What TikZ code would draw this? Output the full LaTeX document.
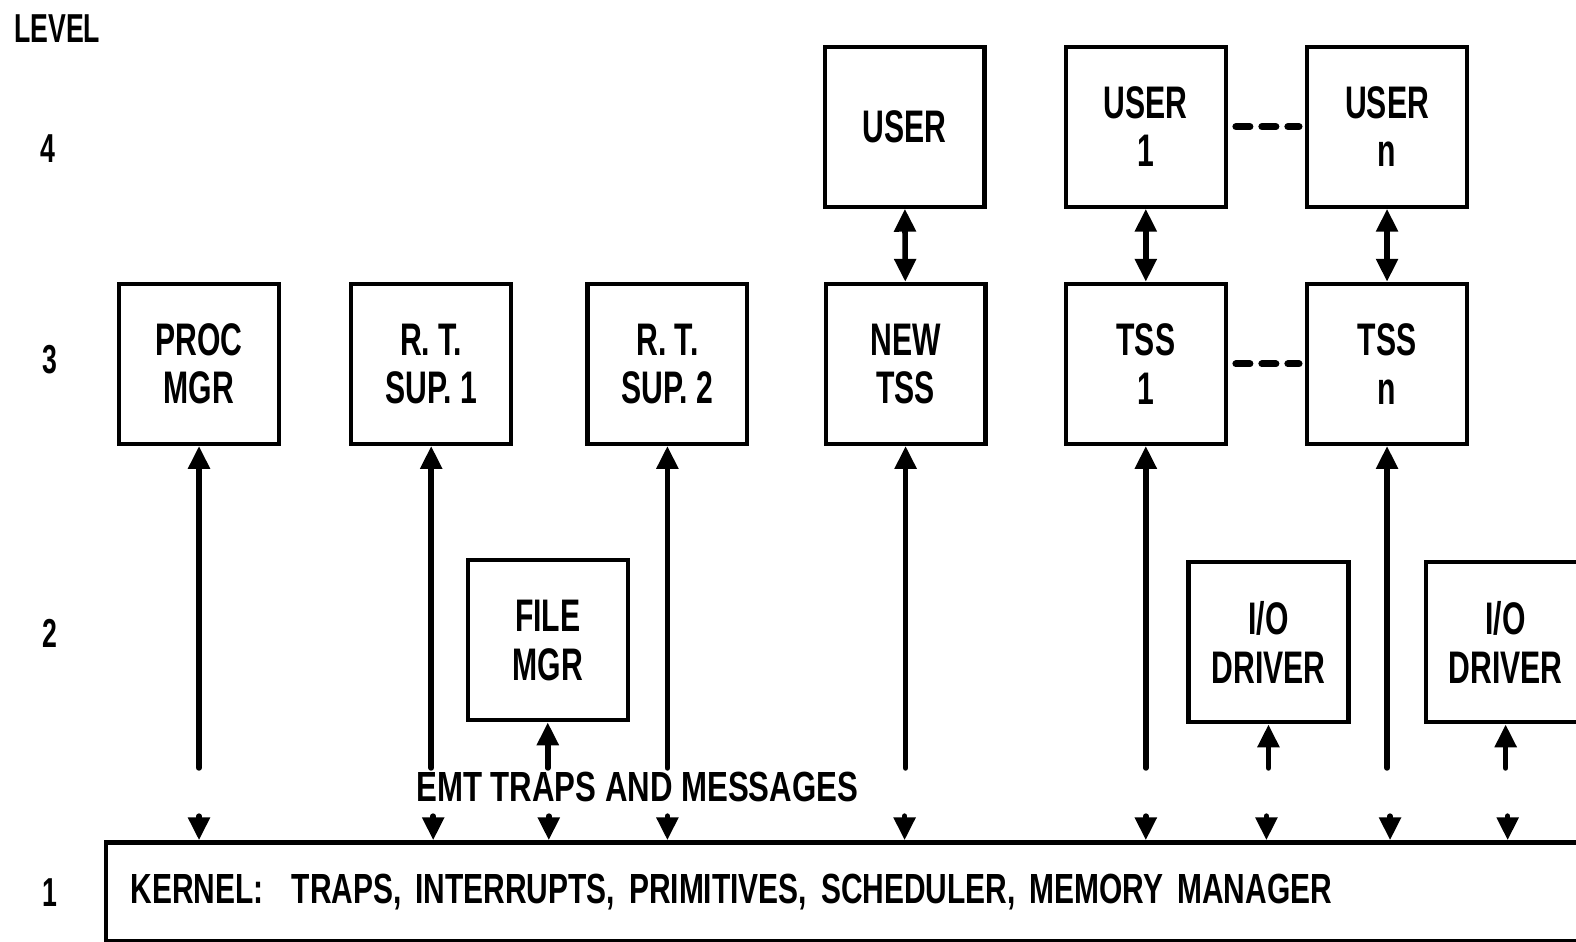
\documentclass[tikz,border=0pt]{standalone}
\usepackage{fontspec}
\setmainfont{Liberation Sans}[FakeStretch=0.66]
\newfontfamily\widefont{Liberation Sans}[FakeStretch=0.71]
\newfontfamily\widerfont{Liberation Sans}[FakeStretch=0.74]
\usetikzlibrary{arrows.meta,positioning}

\tikzset{
  blk/.style={draw, line width=1.2pt, minimum width=1.6cm, minimum height=1.6cm,
    inner sep=0pt, align=center, font=\fontsize{13}{13.8}\selectfont\bfseries},
  lvl/.style={font=\fontsize{11.5}{12}\selectfont\bfseries},
  tip/.style={-{Triangle[width=0.21cm,length=0.23cm]}},
  lnk/.style={line width=1.6pt, line cap=round, tip},
  dlnk/.style={line width=1.6pt, {Triangle[width=0.21cm,length=0.23cm]}-{Triangle[width=0.21cm,length=0.23cm]}},
  dots/.style={line width=2pt, line cap=round, dash pattern=on 0.14cm off 0.12cm,
    shorten <=0.08cm, shorten >=0.06cm}
}

\begin{document}
\begin{tikzpicture}[x=0.01005cm, y=-0.01005cm]

\useasboundingbox (0,0) rectangle (1568,937);
\clip (0,0) rectangle (1568,937);

% level 4
\node[blk] (user)    at (900,126)  {USER};
\node[blk] (userone) at (1140,126) {USER\\1};
\node[blk] (usern)   at (1380,126) {USER\\n};

% level 3
\node[blk] (proc)   at (198,362)  {PROC\\MGR};
\node[blk] (rtone)  at (429,362)  {R. T.\\SUP. 1};
\node[blk] (rttwo)  at (664,362)  {R. T.\\SUP. 2};
\node[blk] (newtss) at (901,362)  {NEW\\TSS};
\node[blk] (tssone) at (1140,362) {TSS\\1};
\node[blk] (tssn)   at (1380,362) {TSS\\n};

% level 2
\node[blk] (file)   at (545,637)  {FILE\\MGR};
\node[blk] (ioone)  at (1262,639) {I/O\\DRIVER};
\node[blk] (iotwo)  at (1498,639) {I/O\\DRIVER};

% level 1
\node[draw, line width=1.2pt, anchor=north west, minimum width=15cm, minimum height=0.99cm,
  text width=14.5cm, inner xsep=0.25cm, align=left, font=\fontsize{12}{13}\selectfont\bfseries\widefont]
  (kernel) at (103,836) {KERNEL:\ \ TRAPS, INTERRUPTS, PRIMITIVES, SCHEDULER, MEMORY MANAGER};

\node[font=\fontsize{12}{13}\selectfont\bfseries\widerfont] (emt) at (634,783) {EMT TRAPS AND MESSAGES};

% user <-> tss
\draw[dlnk] (user) -- (newtss);
\draw[dlnk] (userone) -- (tssone);
\draw[dlnk] (usern) -- (tssn);
\draw[dots] (userone) -- (usern);
\draw[dots] (tssone) -- (tssn);

% long lines up to level 3
\coordinate (lo) at (0,764);
\foreach \b in {proc,rtone,rttwo,newtss,tssone,tssn}
  \draw[lnk] (\b.south |- lo) -- (\b);

% short lines up to level 2
\foreach \b in {file,ioone,iotwo}
  \draw[lnk] (\b.south |- lo) -- (\b);

% into the kernel
\foreach \n/\x in {a/198,b/431,c/546,d/664,e/900,f/1140,g/1260,h/1383,i/1500}{
  \coordinate (t\n) at (\x,812);
  \draw[lnk] (t\n) -- (t\n |- kernel.north);
}

% labels
\node[lvl] (lev)    at (57,28)  {LEVEL};
\node[lvl] (lfour)  at (48,148) {4};
\node[lvl] (lthree) at (50,358) {3};
\node[lvl] (ltwo)   at (50,630) {2};
\node[lvl] (lone)   at (50,888) {1};
\end{tikzpicture}
\end{document}
